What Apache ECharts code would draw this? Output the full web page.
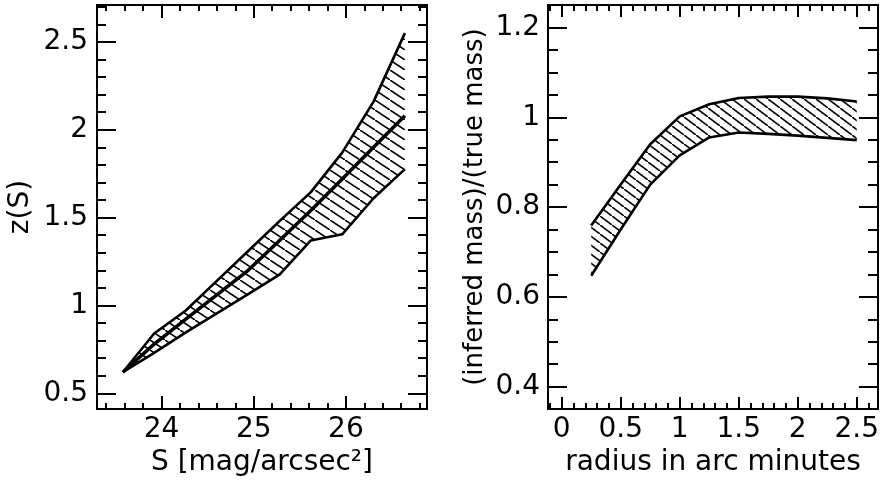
<!DOCTYPE html>
<html>
<head>
<meta charset="utf-8">
<script src="https://cdn.jsdelivr.net/npm/echarts@6/dist/echarts.min.js"></script>
<style>
  html, body { margin: 0; background: #fff; }
  #chart { width: 882px; height: 482px; }
</style>
</head>
<body>
<div id="chart"></div>
<script>
// left panel: redshift band z(S)
var sValues = [23.58, 23.92, 24.26, 24.60, 24.94, 25.28, 25.62, 25.96, 26.30, 26.64];
var zUpper = [0.62, 0.84, 0.97, 1.14, 1.31, 1.48, 1.645, 1.87, 2.16, 2.55];
var zLower = [0.62, 0.73, 0.845, 0.955, 1.065, 1.175, 1.37, 1.405, 1.61, 1.776];
var zMid = [0.62, 0.78, 0.92, 1.06, 1.20, 1.37, 1.54, 1.72, 1.90, 2.08];

// right panel: inferred / true mass band
var radius = [0.25, 0.5, 0.75, 1.0, 1.25, 1.5, 1.75, 2.0, 2.25, 2.5];
var ratioUpper = [0.759, 0.85, 0.94, 1.002, 1.029, 1.043, 1.046, 1.046, 1.042, 1.035];
var ratioLower = [0.647, 0.75, 0.85, 0.915, 0.955, 0.966, 0.963, 0.959, 0.954, 0.949];

// tick labels
var sTicks = [24, 25, 26];
var zTicks = [0.5, 1, 1.5, 2, 2.5];
var rTicks = [0, 0.5, 1, 1.5, 2, 2.5];
var ratioTicks = [0.4, 0.6, 0.8, 1, 1.2];

var FONT = "DejaVu Sans";

function steps(a, b, d) {
  var out = [];
  for (var v = a; v <= b + 1e-9; v += d) out.push(Math.round(v * 1000) / 1000);
  return out;
}

// diagonal line-fill like IDL polyfill
function hatch(w, h, lw) {
  var c = document.createElement("canvas");
  c.width = w;
  c.height = h;
  var g = c.getContext("2d");
  g.strokeStyle = "#000";
  g.lineWidth = lw;
  g.beginPath();
  g.moveTo(-w, -h);
  g.lineTo(2 * w, 2 * h);
  g.stroke();
  return { image: c, repeat: "repeat" };
}

function axis(grid, pos, min, max, ticks, len, withLabel, extra) {
  var a = {
    type: "value",
    gridIndex: grid,
    position: pos,
    min: min,
    max: max,
    axisLine: { show: true, onZero: false, lineStyle: { color: "#000", width: 2 } },
    axisTick: { show: true, inside: true, length: len, customValues: ticks, lineStyle: { color: "#000", width: 2 } },
    axisLabel: { show: withLabel, customValues: ticks, color: "#000", fontFamily: FONT, fontSize: 28 },
    splitLine: { show: false },
  };
  return Object.assign(a, extra || {});
}

// hatched band, outlined only along upper and lower curves
function band(xs, up, lo, xi, yi, fill) {
  return {
    type: "custom",
    xAxisIndex: xi,
    yAxisIndex: yi,
    data: [[xs[0], up[0]]],
    renderItem: function (params, api) {
      var top = [], bot = [];
      for (var i = 0; i < xs.length; i++) {
        top.push(api.coord([xs[i], up[i]]));
        bot.push(api.coord([xs[i], lo[i]]));
      }
      var ring = top.concat(bot.slice().reverse());
      var line = { fill: null, stroke: "#000", lineWidth: 2.6, lineJoin: "round" };
      return {
        type: "group",
        children: [
          { type: "polygon", shape: { points: ring }, style: { fill: fill } },
          { type: "polyline", shape: { points: top }, style: line },
          { type: "polyline", shape: { points: bot }, style: line },
        ],
      };
    },
  };
}

var chart = echarts.init(document.getElementById("chart"));

var sMin = 23.3, sMax = 26.88, zMin = 0.41, zMax = 2.71;
var rMin = -0.116, rMax = 2.68, qMin = 0.35, qMax = 1.25;

var nameStyle = { color: "#000", fontFamily: FONT, fontSize: 28 };

chart.setOption({
  animation: false,
  backgroundColor: "#fff",
  grid: [
    { left: 97, top: 5, width: 330, height: 412 },
    { left: 548, top: 5, width: 332, height: 412 },
  ],
  xAxis: [
    axis(0, "bottom", sMin, sMax, sTicks, 13, true, {
      name: "S [mag/arcsec²]",
      nameLocation: "middle",
      nameGap: 30,
      nameTextStyle: Object.assign({ verticalAlign: "top" }, nameStyle),
      axisLabel: { show: true, customValues: sTicks, color: "#000", fontFamily: FONT, fontSize: 28, margin: 7 },
    }),
    axis(0, "bottom", sMin, sMax, steps(23.4, 26.8, 0.2), 6, false),
    axis(0, "top", sMin, sMax, sTicks, 13, false),
    axis(0, "top", sMin, sMax, steps(23.4, 26.8, 0.2), 6, false),
    axis(1, "bottom", rMin, rMax, rTicks, 12, true, {
      name: "radius in arc minutes",
      nameLocation: "middle",
      nameGap: 30,
      nameTextStyle: Object.assign({ verticalAlign: "top" }, nameStyle),
      axisLabel: { show: true, customValues: rTicks, color: "#000", fontFamily: FONT, fontSize: 28, margin: 7 },
    }),
    axis(1, "bottom", rMin, rMax, steps(-0.1, 2.6, 0.1), 6, false),
    axis(1, "top", rMin, rMax, rTicks, 12, false),
    axis(1, "top", rMin, rMax, steps(-0.1, 2.6, 0.1), 6, false),
  ],
  yAxis: [
    axis(0, "left", zMin, zMax, zTicks, 19, true, {
      name: "z(S)",
      nameLocation: "middle",
      nameGap: 62,
      nameTextStyle: nameStyle,
      axisLabel: { show: true, customValues: zTicks, color: "#000", fontFamily: FONT, fontSize: 28, margin: 9 },
    }),
    axis(0, "left", zMin, zMax, steps(0.5, 2.7, 0.1), 9, false),
    axis(0, "right", zMin, zMax, zTicks, 19, false),
    axis(0, "right", zMin, zMax, steps(0.5, 2.7, 0.1), 9, false),
    axis(1, "left", qMin, qMax, ratioTicks, 19, true, {
      name: "(inferred mass)/(true mass)",
      nameLocation: "middle",
      nameGap: 60,
      nameTextStyle: { color: "#000", fontFamily: FONT, fontSize: 26 },
      axisLabel: { show: true, customValues: ratioTicks, color: "#000", fontFamily: FONT, fontSize: 28, margin: 8 },
    }),
    axis(1, "left", qMin, qMax, steps(0.4, 1.2, 0.05), 10, false),
    axis(1, "right", qMin, qMax, ratioTicks, 19, false),
    axis(1, "right", qMin, qMax, steps(0.4, 1.2, 0.05), 10, false),
  ],
  series: [
    band(sValues, zUpper, zLower, 0, 0, hatch(15, 10, 1.6)),
    {
      type: "line",
      xAxisIndex: 0,
      yAxisIndex: 0,
      data: sValues.map(function (s, i) { return [s, zMid[i]]; }),
      symbol: "none",
      lineStyle: { color: "#000", width: 3.5 },
    },
    band(radius, ratioUpper, ratioLower, 4, 4, hatch(12, 9, 1.6)),
  ],
});
</script>
</body>
</html>
